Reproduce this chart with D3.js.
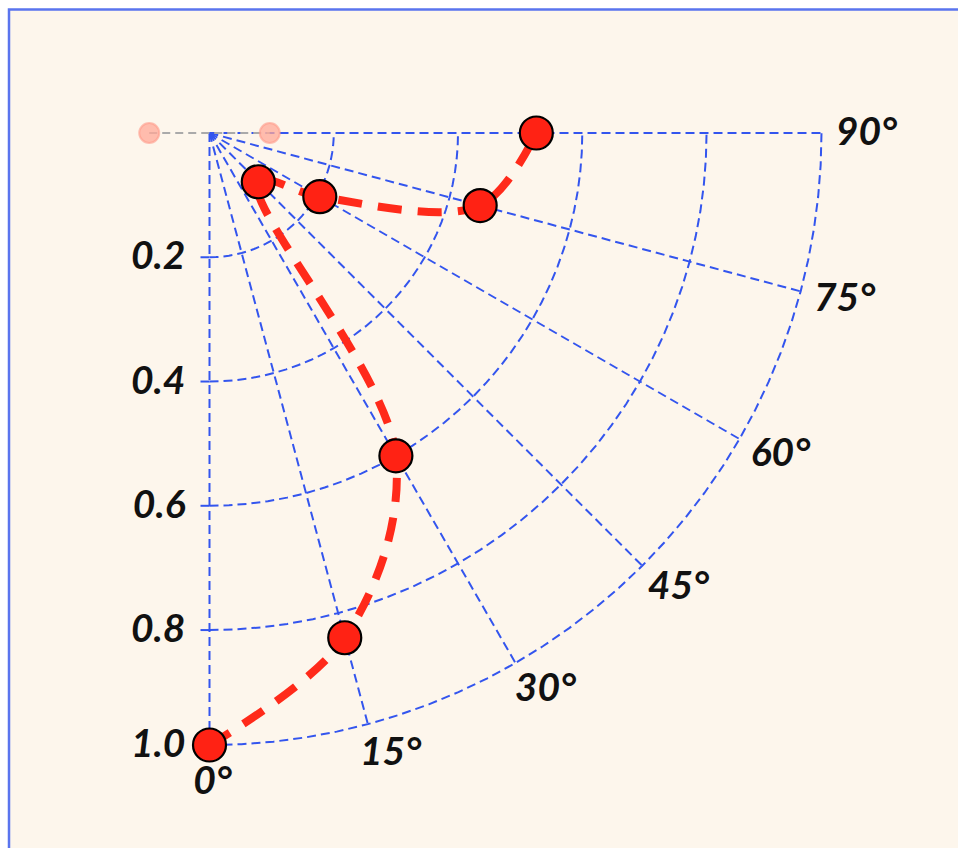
<!DOCTYPE html>
<html>
<head>
<meta charset="utf-8">
<script src="https://cdn.jsdelivr.net/npm/d3@7"></script>
<style>
  html, body { margin: 0; padding: 0; background: #ffffff; }
  svg { display: block; }
  .lbl { font-family: Lato, "Noto Sans", sans-serif; font-style: italic; font-weight: bold; font-size: 39px; fill: #111; }
</style>
</head>
<body>
<svg id="chart" width="958" height="848"></svg>
<script>
// ---- data ----
const angles = [0, 15, 30, 45, 60, 75, 90];            // degrees, 0 = down, 90 = right
const radii = [0.985, 0.841, 0.60, 0.111, 0.205, 0.451, 0.526];
const radialTicks = [0.2, 0.4, 0.6, 0.8, 0.985];
const angleTicks = [0, 15, 30, 45, 60, 75, 90];
const ghostAngles = [-90, 90];
const ghostRadii = [0.097, 0.097];

// ---- layout ----
const cx = 209.5, cy = 133, R = 612;
const svg = d3.select('#chart');

svg.append('rect')
  .attr('x', 9).attr('y', 9.5)
  .attr('width', 980).attr('height', 870)
  .attr('fill', '#fdf6ec')
  .attr('stroke', '#5a74ee')
  .attr('stroke-width', 2.5);

const r = d3.scaleLinear().domain([0, 0.985]).range([0, R]);
const toRad = d => (180 - d) * Math.PI / 180;   // lineRadial angle convention

const g = svg.append('g').attr('transform', `translate(${cx},${cy})`);

const gridStyle = sel => sel
  .attr('fill', 'none')
  .attr('stroke', '#3355ee')
  .attr('stroke-width', 2)
  .attr('stroke-dasharray', '9,5');

// arcs
const arcSteps = d3.range(0, 90.01, 3);
radialTicks.forEach(t => {
  g.append('path')
    .attr('d', d3.lineRadial().angle(a => toRad(a)).radius(() => r(t))(arcSteps))
    .call(gridStyle);
});

// spokes
angleTicks.forEach(a => {
  g.append('path')
    .attr('d', d3.lineRadial().angle(toRad(a)).radius(d => d)([0, R]))
    .call(gridStyle);
});

// radial axis ticks + labels
radialTicks.forEach(t => {
  g.append('line')
    .attr('x1', -9).attr('x2', 0)
    .attr('y1', r(t)).attr('y2', r(t))
    .attr('stroke', '#3355ee').attr('stroke-width', 2);
  g.append('text')
    .attr('class', 'lbl')
    .attr('x', -24).attr('y', r(t) + 2)
    .attr('text-anchor', 'end')
    .attr('dominant-baseline', 'middle')
    .text(d3.format('.1f')(t));
});

// angular labels
angleTicks.forEach(a => {
  const rad = a * Math.PI / 180;
  const d = R + 30;
  g.append('text')
    .attr('class', 'lbl')
    .attr('x', d * Math.sin(rad) + (a === 0 ? 3 : 15))
    .attr('y', d * Math.cos(rad) + (a === 0 ? 9 : 2))
    .attr('text-anchor', 'middle')
    .attr('dominant-baseline', 'middle')
    .text(a + '°');
});

// ghost points
const ghosts = ghostAngles.map((a, i) => ({ a, v: ghostRadii[i] }));
g.append('path')
  .attr('d', d3.lineRadial().angle(d => toRad(d.a)).radius(d => r(d.v))(ghosts))
  .attr('fill', 'none')
  .attr('stroke', '#aaaaaa')
  .attr('stroke-width', 1.8)
  .attr('stroke-dasharray', '8,5');
g.selectAll('.ghost')
  .data(ghosts)
  .join('circle')
  .attr('class', 'ghost')
  .attr('cx', d => r(d.v) * Math.sin(d.a * Math.PI / 180))
  .attr('cy', d => r(d.v) * Math.cos(d.a * Math.PI / 180))
  .attr('r', 10)
  .attr('fill', '#ffa898')
  .attr('fill-opacity', 0.75)
  .attr('stroke', '#ff9a88')
  .attr('stroke-opacity', 0.6)
  .attr('stroke-width', 2);

// data line
const pts = angles.map((a, i) => ({ a, v: radii[i] }));
g.append('path')
  .attr('d', d3.lineRadial()
    .angle(d => toRad(d.a))
    .radius(d => r(d.v))
    .curve(d3.curveCatmullRom.alpha(0.5))(pts))
  .attr('fill', 'none')
  .attr('stroke', '#ff2a1a')
  .attr('stroke-width', 8)
  .attr('stroke-dasharray', '24,16');

// markers
g.selectAll('.pt')
  .data(pts)
  .join('circle')
  .attr('class', 'pt')
  .attr('cx', d => r(d.v) * Math.sin(d.a * Math.PI / 180))
  .attr('cy', d => r(d.v) * Math.cos(d.a * Math.PI / 180))
  .attr('r', 16.5)
  .attr('fill', '#ff2214')
  .attr('stroke', '#000')
  .attr('stroke-width', 2.2);
</script>
</body>
</html>
